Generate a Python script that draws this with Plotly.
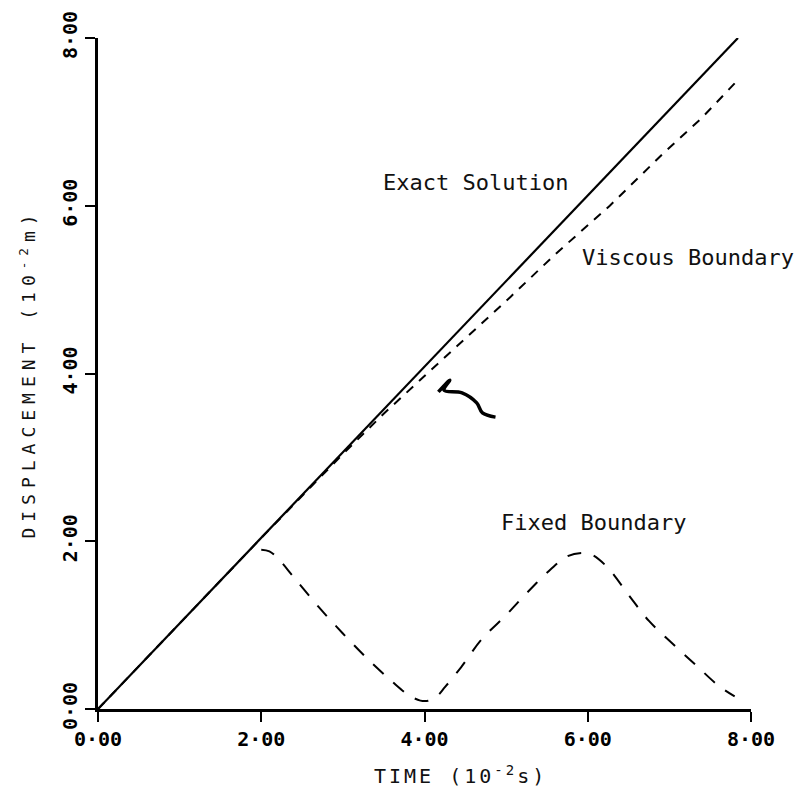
import plotly.graph_objects as go

# Displacement histories (units: 10^-2 m) against time (units: 10^-2 s)
exact_t = [0.0, 7.84]
exact_u = [0.0, 8.0]

viscous_t = [0.0, 1.0, 2.0, 3.0, 3.5, 4.0, 4.5, 5.05, 5.6, 6.27, 6.92, 7.4, 7.84]
viscous_u = [0.0, 1.02, 2.04, 3.04, 3.52, 3.97, 4.42, 4.91, 5.42, 6.0, 6.62, 7.05, 7.5]

# Fixed-boundary response follows the exact line up to t = 2, then oscillates
fixed_t = [2.0, 2.1, 2.2, 2.4, 2.7, 3.0, 3.3, 3.6, 3.8, 3.95, 4.05, 4.15, 4.25,
           4.45, 4.7, 5.0, 5.25, 5.55, 5.75, 5.92, 6.05, 6.25, 6.5, 6.75, 7.05, 7.35, 7.6, 7.8]
fixed_u = [1.9, 1.88, 1.8, 1.57, 1.22, 0.9, 0.6, 0.33, 0.17, 0.1, 0.1, 0.15, 0.26,
           0.5, 0.83, 1.12, 1.38, 1.67, 1.82, 1.86, 1.84, 1.68, 1.36, 1.05, 0.77, 0.5, 0.28, 0.15]

# Hand-drawn pointer stroke near the viscous curve
pen_t = [4.17, 4.31, 4.24, 4.46, 4.64, 4.71, 4.87]
pen_u = [3.78, 3.92, 3.8, 3.77, 3.65, 3.53, 3.48]

tick_vals = [0, 2, 4, 6, 8]
tick_text = ["0·00", "2·00", "4·00", "6·00", "8·00"]

label_font = dict(family="DejaVu Sans Mono", size=22, color="#111")
tick_font = dict(family="DejaVu Sans Mono", size=20, color="#000", weight="bold")


def spaced(text, px):
    return f'<span style="letter-spacing:{px}px">{text}</span>'


fig = go.Figure()
fig.add_trace(go.Scatter(x=exact_t, y=exact_u, mode="lines",
                         line=dict(color="#000", width=2.2), showlegend=False))
fig.add_trace(go.Scatter(x=viscous_t, y=viscous_u, mode="lines",
                         line=dict(color="#000", width=2, dash="9px,8px"), showlegend=False))
fig.add_trace(go.Scatter(x=fixed_t, y=fixed_u, mode="lines", line_shape="spline",
                         line=dict(color="#000", width=2, dash="14px,13px"), showlegend=False))
fig.add_trace(go.Scatter(x=pen_t, y=pen_u, mode="lines", line_shape="spline",
                         line=dict(color="#000", width=3.5), showlegend=False))

fig.add_annotation(x=4.62, y=6.28, text="Exact Solution", showarrow=False, font=label_font)
fig.add_annotation(x=5.9, y=5.38, text="Viscous Boundary", showarrow=False,
                   xanchor="left", font=label_font)
fig.add_annotation(x=6.07, y=2.22, text="Fixed Boundary", showarrow=False, font=label_font)

# Time-axis caption, set slightly right of the axis centre
fig.add_annotation(xref="paper", yref="paper", x=0.555, y=-0.098, yanchor="middle",
                   text=spaced("TIME (10<sup>-2</sup>s)", 3), showarrow=False,
                   font=dict(family="DejaVu Sans Mono", size=20, color="#111"))

fig.update_layout(
    width=807, height=804,
    margin=dict(l=98, r=56, t=38, b=95),
    paper_bgcolor="white", plot_bgcolor="white",
    font=dict(family="DejaVu Sans Mono", color="#000"),
)
fig.update_xaxes(
    range=[0, 8], tickvals=tick_vals, ticktext=tick_text, tickfont=tick_font,
    showgrid=False, zeroline=False, showline=True, linecolor="#000", linewidth=2.5,
    ticks="outside", ticklen=10, tickwidth=2, tickcolor="#000",
)
fig.update_yaxes(
    range=[0, 8], tickvals=tick_vals, ticktext=tick_text, tickfont=tick_font,
    tickangle=-90,
    showgrid=False, zeroline=False, showline=True, linecolor="#000", linewidth=2.5,
    ticks="outside", ticklen=10, tickwidth=2, tickcolor="#000",
    title=dict(text=spaced("DISPLACEMENT (10<sup>-2</sup>m)", 6),
               font=dict(family="DejaVu Sans Mono", size=18, color="#111"),
               standoff=18),
)

fig.write_html("out.html")
